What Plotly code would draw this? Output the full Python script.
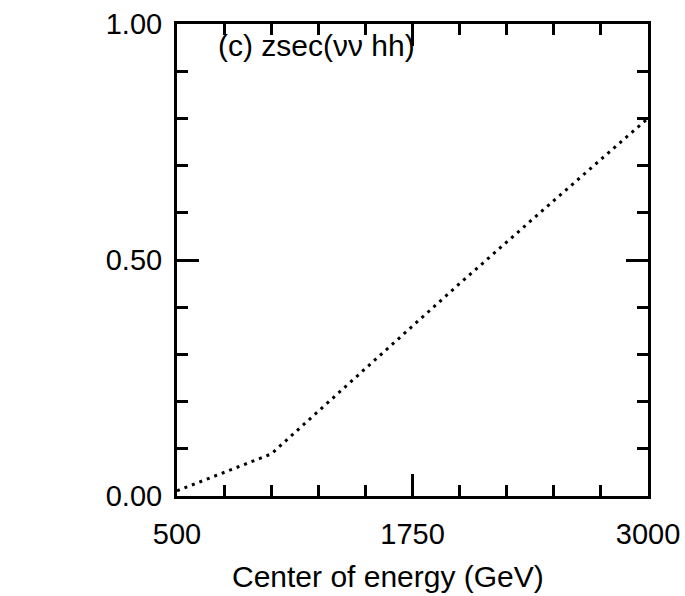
import plotly.graph_objects as go

# Centre-of-mass energy (GeV) and the corresponding zsec value
energy = [500, 1000, 1500, 2000, 2500, 3000]
zsec = [0.011, 0.089, 0.27, 0.45, 0.626, 0.80]

x_ticks = [500, 1750, 3000]
x_tick_text = ["500", "1750", "3000"]
y_ticks = [0.0, 0.5, 1.0]
y_tick_text = ["0.00", "0.50", "1.00"]

FONT = "Liberation Sans, Arial, sans-serif"

fig = go.Figure()
fig.add_trace(go.Scatter(
    x=energy, y=zsec, mode="lines",
    line=dict(color="black", width=3, dash="3px,5px"),
    showlegend=False,
))

axis_common = dict(
    showline=True, linecolor="black", linewidth=3, mirror="allticks",
    ticks="inside", ticklen=22, tickwidth=3, tickcolor="black",
    showgrid=False, zeroline=False, automargin=False,
    tickfont=dict(family=FONT, size=29, color="black"),
)

fig.update_xaxes(
    range=[500, 3000], tickvals=x_ticks, ticktext=x_tick_text,
    minor=dict(dtick=250, tick0=500, ticks="inside", ticklen=11, tickwidth=3,
               tickcolor="black", showgrid=False),
    ticklabelstandoff=10,
    **axis_common,
)
fig.update_yaxes(
    range=[0, 1], tickvals=y_ticks, ticktext=y_tick_text,
    minor=dict(dtick=0.1, tick0=0, ticks="inside", ticklen=11, tickwidth=3,
               tickcolor="black", showgrid=False),
    ticklabelstandoff=6,
    **axis_common,
)

# x-axis title, placed slightly left of the plot centre
fig.add_annotation(
    text="Center of energy (GeV)", xref="paper", yref="paper", x=0.447, y=-0.171,
    xanchor="center", yanchor="middle", showarrow=False,
    font=dict(family=FONT, size=30, color="black"),
)

# panel label
fig.add_annotation(
    text="(c) zsec(νν hh)", xref="paper", yref="paper", x=0.082, y=0.955,
    xanchor="left", yanchor="middle", showarrow=False,
    font=dict(family=FONT, size=30, color="black"),
)

fig.update_layout(
    width=685, height=596,
    margin=dict(l=177, r=37, t=24, b=100),
    paper_bgcolor="white", plot_bgcolor="white",
)

fig.write_html("out.html")
